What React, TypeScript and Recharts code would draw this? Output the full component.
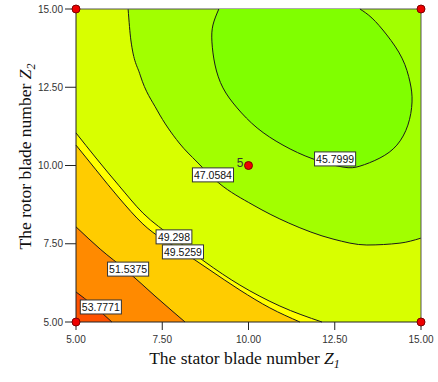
import { ComposedChart, Area, Scatter, XAxis, YAxis, CartesianGrid, ReferenceLine } from "recharts"

// axis ticks (Z1 on x, Z2 on y)
const xTicks = [5, 7.5, 10, 12.5, 15]
const yTicks = [5, 7.5, 10, 12.5, 15]

// contour lines
const contour47 = [
  { x: 6.51, y: 15 },
  { x: 6.59, y: 14.01 },
  { x: 6.86, y: 12.89 },
  { x: 7.35, y: 11.77 },
  { x: 7.99, y: 10.72 },
  { x: 8.51, y: 10.11 },
  { x: 9.14, y: 9.44 },
  { x: 10.13, y: 8.74 },
  { x: 11.17, y: 8.16 },
  { x: 12.45, y: 7.65 },
  { x: 13.43, y: 7.46 },
  { x: 14.39, y: 7.52 },
  { x: 15, y: 7.68 },
]

const contour49a = [
  { x: 5, y: 11.04 },
  { x: 5.58, y: 10.24 },
  { x: 6.25, y: 9.35 },
  { x: 6.94, y: 8.48 },
  { x: 7.84, y: 7.68 },
  { x: 8.74, y: 6.92 },
  { x: 9.75, y: 6.18 },
  { x: 10.91, y: 5.51 },
  { x: 12.13, y: 5 },
]

const contour49b = [
  { x: 5, y: 10.65 },
  { x: 5.58, y: 9.86 },
  { x: 6.25, y: 8.96 },
  { x: 6.94, y: 8.13 },
  { x: 8.1, y: 7.24 },
  { x: 8.88, y: 6.66 },
  { x: 9.75, y: 6.02 },
  { x: 10.62, y: 5.45 },
  { x: 11.49, y: 5 },
]

const contour51 = [
  { x: 5, y: 8.04 },
  { x: 5.7, y: 7.33 },
  { x: 6.48, y: 6.63 },
  { x: 7.29, y: 5.83 },
  { x: 8.16, y: 5 },
]

const contour53 = [
  { x: 5, y: 5.96 },
  { x: 5.49, y: 5.54 },
  { x: 6.04, y: 5 },
]

// 45.7999 loop, clipped by the top edge
const contour45 = [
  { x: 9.14, y: 15 },
  { x: 8.97, y: 14.49 },
  { x: 8.94, y: 13.95 },
  { x: 9.03, y: 13.21 },
  { x: 9.26, y: 12.48 },
  { x: 9.67, y: 11.84 },
  { x: 10.25, y: 11.2 },
  { x: 11.0, y: 10.65 },
  { x: 11.87, y: 10.21 },
  { x: 12.74, y: 9.95 },
  { x: 13.23, y: 9.98 },
  { x: 13.81, y: 10.24 },
  { x: 14.3, y: 10.65 },
  { x: 14.62, y: 11.29 },
  { x: 14.74, y: 12.03 },
  { x: 14.68, y: 12.67 },
  { x: 14.45, y: 13.43 },
  { x: 14.01, y: 14.17 },
  { x: 13.58, y: 14.71 },
  { x: 13.23, y: 15 },
]

const contourLabels = [
  { x: 8.97, y: 9.7, text: "47.0584" },
  { x: 12.51, y: 10.21, text: "45.7999" },
  { x: 7.84, y: 7.72, text: "49.298" },
  { x: 8.1, y: 7.24, text: "49.5259" },
  { x: 6.51, y: 6.69, text: "51.5375" },
  { x: 5.72, y: 5.48, text: "53.7771" },
]

const designPoints = [
  { x: 5, y: 5 },
  { x: 5, y: 15 },
  { x: 15, y: 5 },
  { x: 15, y: 15 },
  { x: 10, y: 10, tag: "5" },
]

const serif = "'Times New Roman', 'Liberation Serif', serif"
const sans = "Arial, 'Liberation Sans', sans-serif"

const XTitle = ({ viewBox }: any) => (
  <text x={viewBox.x + viewBox.width / 2 - 4} y={viewBox.y + 42} textAnchor="middle" fontFamily={serif} fontSize={17.5} fill="#111">
    <tspan>The stator blade number </tspan>
    <tspan fontStyle="italic">Z</tspan>
    <tspan fontStyle="italic" fontSize={12} dy={4}>1</tspan>
  </text>
)

const YTitle = ({ viewBox }: any) => {
  const cx = viewBox.x + 31
  const cy = viewBox.y + viewBox.height / 2 - 9
  return (
    <text x={cx} y={cy} transform={`rotate(-90, ${cx}, ${cy})`} textAnchor="middle" fontFamily={serif} fontSize={17.5} fill="#111">
      <tspan>The rotor blade number </tspan>
      <tspan fontStyle="italic">Z</tspan>
      <tspan fontStyle="italic" fontSize={12} dy={4}>2</tspan>
    </text>
  )
}

const ContourLabel = ({ cx, cy, payload }: any) => {
  const w = payload.text.length * 5.3 + 4
  return (
    <g>
      <rect x={cx - w / 2} y={cy - 7} width={w} height={14} fill="#fff" stroke="#333" strokeWidth={1} />
      <text x={cx} y={cy + 4} textAnchor="middle" fontFamily={sans} fontSize={10.5} fill="#111">
        {payload.text}
      </text>
    </g>
  )
}

const DesignPoint = ({ cx, cy, payload }: any) => (
  <g>
    <circle cx={cx} cy={cy} r={4} fill="#ee0000" stroke="#800000" strokeWidth={1} />
    {payload.tag && (
      <text x={cx - 5} y={cy + 1} textAnchor="end" fontFamily={sans} fontSize={12} fill="#333">
        {payload.tag}
      </text>
    )}
  </g>
)

const hidden = () => <g />

export default function App() {
  const fmt = (v: number) => v.toFixed(2)
  return (
    <div style={{ position: "absolute", left: 0, top: 0, background: "#fff" }}>
      <ComposedChart width={438} height={382} margin={{ top: 9, right: 17, bottom: 0, left: 0 }}>
        <CartesianGrid horizontal={false} vertical={false} fill="#d8ff00" stroke="none" />
        <Area data={contour47} dataKey="y" type="monotone" baseValue="dataMax" fill="#a2ff00" fillOpacity={1} stroke="#1a1a1a" strokeWidth={1} isAnimationActive={false} />
        <Area data={contour49a} dataKey="y" type="monotone" fill="#ffff00" fillOpacity={1} stroke="#1a1a1a" strokeWidth={1} isAnimationActive={false} />
        <Area data={contour49b} dataKey="y" type="monotone" fill="#ffcc00" fillOpacity={1} stroke="#1a1a1a" strokeWidth={1} isAnimationActive={false} />
        <Area data={contour51} dataKey="y" type="monotone" fill="#ff8a00" fillOpacity={1} stroke="#1a1a1a" strokeWidth={1} isAnimationActive={false} />
        <Area data={contour53} dataKey="y" type="monotone" fill="#ff5200" fillOpacity={1} stroke="#1a1a1a" strokeWidth={1} isAnimationActive={false} />
        <Scatter
          data={contour45}
          shape={hidden}
          line={{ fill: "#80ff00", stroke: "#1a1a1a", strokeWidth: 1 }}
          lineJointType="natural"
          isAnimationActive={false}
        />
        <ReferenceLine y={15} stroke="#555" />
        <ReferenceLine x={15} stroke="#555" />
        <Scatter data={contourLabels} shape={ContourLabel} isAnimationActive={false} />
        <Scatter data={designPoints} shape={DesignPoint} isAnimationActive={false} />
        <XAxis
          dataKey="x"
          type="number"
          domain={[5, 15]}
          ticks={xTicks}
          tickFormatter={fmt}
          height={60}
          tickSize={8}
          tickMargin={6}
          stroke="#222"
          tick={{ fontSize: 10, fill: "#333", fontFamily: sans }}
          label={{ content: XTitle }}
        />
        <YAxis
          dataKey="y"
          type="number"
          domain={[5, 15]}
          ticks={yTicks}
          tickFormatter={fmt}
          width={76}
          tickSize={11}
          tickMargin={2}
          stroke="#222"
          tick={{ fontSize: 10, fill: "#333", fontFamily: sans }}
          label={{ content: YTitle }}
        />
      </ComposedChart>
    </div>
  )
}
